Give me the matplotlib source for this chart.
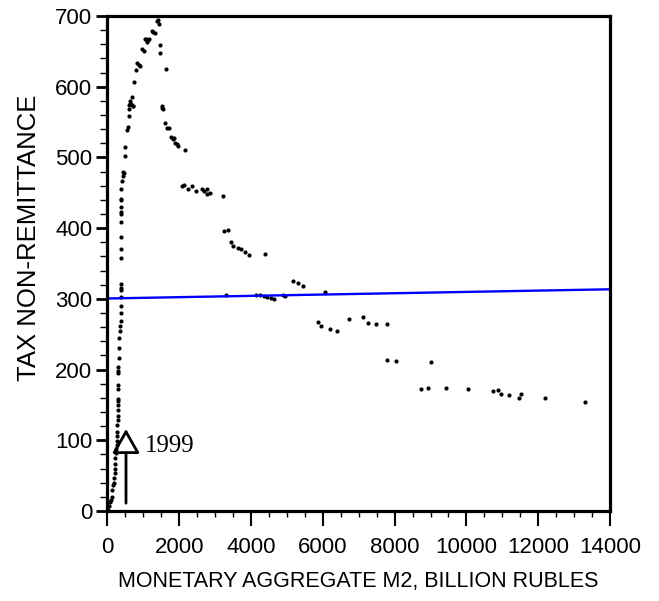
import matplotlib
matplotlib.use('Agg')
import matplotlib.pyplot as plt
from matplotlib.patches import FancyArrowPatch
from matplotlib.ticker import MultipleLocator

plt.rcParams['font.family'] = ['Liberation Sans', 'DejaVu Sans']

# rising branch
m2_rise = [0, 14, 42, 70, 98, 126, 135, 163, 181, 181, 200, 200, 218, 218, 237, 237,
           256, 256, 256, 274, 274, 293, 293, 293, 293, 302, 293, 293, 293, 293, 293,
           293, 311, 311, 321, 339, 349, 367, 376, 376, 376, 376, 376, 376, 376, 386,
           376, 386, 386, 386, 376, 376, 367, 386, 395, 441, 460, 423, 479, 497, 534,
           562, 590, 609, 609, 646, 720, 627, 674, 627, 720, 748, 785, 832, 869, 906,
           971, 1008, 1036, 1074, 1101, 1139, 1166, 1231, 1278, 1315, 1371, 1408, 1436]
tax_rise = [0, 2, 7, 12, 16, 20, 29, 37, 40, 47, 54, 60, 67, 75, 82, 87,
            93, 99, 106, 112, 122, 128, 134, 143, 150, 156, 158, 172, 178, 195, 198,
            204, 217, 231, 244, 254, 261, 269, 280, 290, 303, 313, 316, 321, 358, 370,
            387, 408, 420, 423, 430, 440, 441, 455, 467, 474, 478, 479, 502, 515, 539,
            543, 558, 568, 574, 576, 573, 580, 585, 576, 572, 606, 623, 634, 631, 629,
            653, 650, 667, 668, 663, 666, 668, 679, 677, 676, 693, 695, 688]

# falling branch
m2_fall = [1464, 1473, 1631, 1510, 1520, 1538, 1594, 1650, 1715, 1780, 1817, 1854,
           1882, 1929, 1966, 2152, 2068, 2133, 2245, 2356, 2468, 2635, 2691, 2766,
           2784, 2859, 3231, 3258, 3351, 3444, 3509, 3648, 3713, 3834, 3955, 4383,
           3300, 4150, 4250, 4350, 4450, 4550, 4650, 4900, 4950, 5180, 5320, 5450,
           5870, 5950, 6050, 6205, 6391, 6716, 7116, 7255, 7478, 7785, 7794, 8045,
           9021, 8724, 8928, 9440, 10034, 10732, 10880, 10954, 11187, 11456, 11521,
           12191, 13306]
tax_fall = [659, 648, 625, 572, 570, 568, 548, 541, 542, 529, 526, 528,
            520, 519, 516, 511, 459, 461, 456, 459, 453, 455, 453, 456,
            448, 450, 445, 396, 398, 381, 375, 372, 370, 366, 362, 363,
            305, 305, 305, 304, 302, 301, 300, 306, 304, 325, 322, 318,
            267, 262, 310, 258, 255, 271, 274, 266, 265, 264, 214, 212,
            210, 173, 174, 174, 172, 170, 171, 166, 164, 160, 165,
            160, 154]

# fitted line
trend_m2 = [0, 14000]
trend_tax = [300.5, 313.5]

arrow_x = 516
arrow_from = 11
arrow_to = 116

fig = plt.figure(figsize=(6.59, 6.01), dpi=100)
ax = fig.add_axes([0.1631, 0.1498, 0.7625, 0.8236])

ax.plot(m2_rise + m2_fall, tax_rise + tax_fall, 'o', color='black', ms=3, mew=0)
ax.plot(trend_m2, trend_tax, color='#0000ff', lw=1.7)

arr = FancyArrowPatch((arrow_x, arrow_from), (arrow_x, arrow_to),
                      arrowstyle='-|>,head_length=15,head_width=8.5',
                      mutation_scale=1, shrinkA=0, shrinkB=0,
                      fc='white', ec='black', lw=2)
ax.add_patch(arr)
ax.text(1030, 92, '1999', family=['Liberation Serif', 'DejaVu Serif'],
        fontsize=18, va='center', ha='left')

ax.set_xlim(0, 14000)
ax.set_ylim(0, 700)
ax.xaxis.set_major_locator(MultipleLocator(2000))
ax.xaxis.set_minor_locator(MultipleLocator(500))
ax.yaxis.set_major_locator(MultipleLocator(100))
ax.yaxis.set_minor_locator(MultipleLocator(20))

ax.tick_params(which='both', direction='out', top=False, right=False, labelsize=16)
ax.tick_params(axis='x', which='major', length=11, width=1.5, pad=8)
ax.tick_params(axis='x', which='minor', length=4, width=1)
ax.tick_params(axis='y', which='major', length=8, width=2, pad=3)
ax.tick_params(axis='y', which='minor', length=5, width=1)

for s in ax.spines.values():
    s.set_linewidth(2.3)

ax.set_xlabel('MONETARY AGGREGATE M2, BILLION RUBLES', fontsize=15.5, labelpad=9)
ax.set_ylabel('TAX NON-REMITTANCE', fontsize=18.5)
ax.yaxis.set_label_coords(-0.132, 0.552)

plt.savefig('out.png', dpi=100, facecolor='white')
